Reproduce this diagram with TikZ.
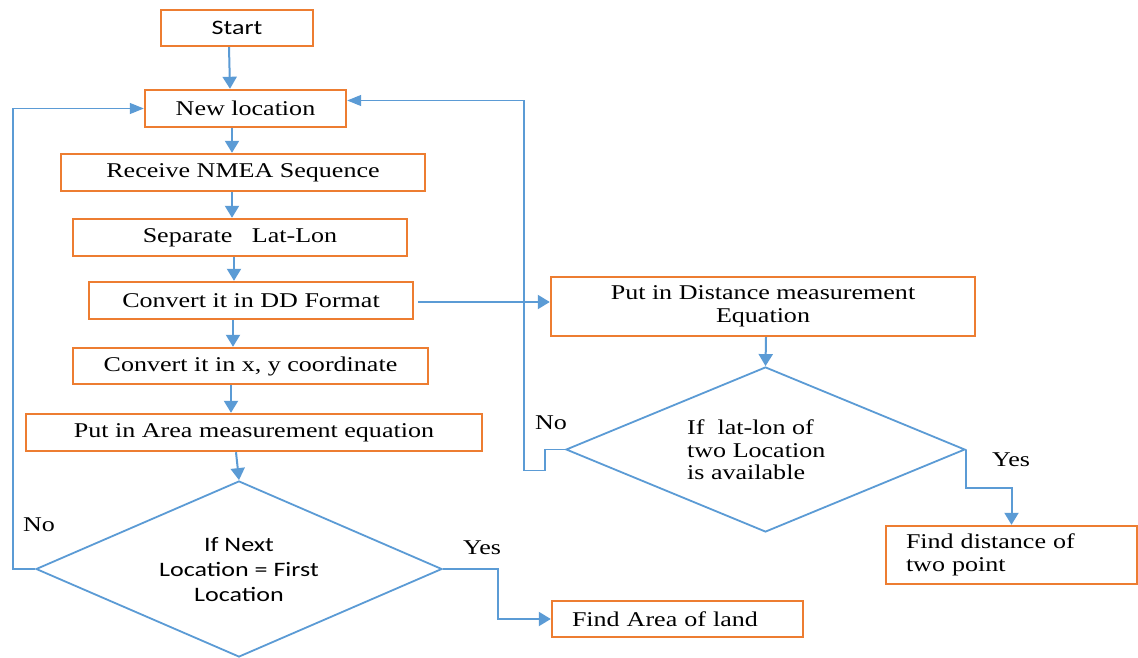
\documentclass[tikz,border=0pt]{standalone}
\usepackage{fontspec}
\setmainfont{Liberation Serif}[FakeStretch=1.24]
\newfontfamily\calfont{Carlito}[FakeStretch=1.27]
\usetikzlibrary{arrows.meta,shapes.geometric}
\definecolor{obox}{HTML}{ED7D31}
\definecolor{bline}{HTML}{5B9BD5}
\begin{document}
\begin{tikzpicture}[x=1pt,y=-1pt,
  every node/.style={font=\fontsize{21}{22.5}\selectfont, text=black},
  box/.style={draw=obox, line width=2.4pt, inner sep=0pt, fill=white, align=center},
  dec/.style={diamond, draw=bline, line width=1.8pt, inner sep=0pt},
  arr/.style={draw=bline, line width=2pt, -{Triangle[width=14pt,length=12pt]}},
  loop/.style={draw=bline, line width=1.3pt, -{Triangle[width=11pt,length=14pt]}},
  lbl/.style={inner sep=0pt}]
\fill[white] (0,0) rectangle (1138,658);
\useasboundingbox (0,0) rectangle (1138,658);

% boxes
\node[box, minimum width=152pt, minimum height=36pt, font=\calfont\fontsize{20.5}{22}\selectfont] (start) at (237,28) {Start};
\node[box, minimum width=201pt, minimum height=37pt] (nl) at (245.5,108.5) {New location};
\node[box, minimum width=364pt, minimum height=37pt] (rcv) at (243,172.5) {Receive NMEA Sequence};
\node[box, minimum width=334pt, minimum height=37pt] (sep) at (240,237.5) {Separate~~~Lat-Lon};
\node[box, minimum width=324pt, minimum height=37pt] (dd) at (251,300.5) {Convert it in DD Format};
\node[box, minimum width=355pt, minimum height=36pt] (xy) at (250.5,366) {Convert it in x, y coordinate};
\node[box, minimum width=456pt, minimum height=37pt] (area) at (254,432.5) {Put in Area measurement equation};
\node[box, minimum width=424pt, minimum height=59pt] (dist) at (763,306.5) {Put in Distance measurement\\Equation};
\node[box, minimum width=251pt, minimum height=36pt, text width=211pt, align=left] (fa) at (677.5,619) {Find Area of land};
\node[box, minimum width=251pt, minimum height=58pt, text width=211pt, align=left] (fd) at (1011.5,555) {Find distance of\\two point};

% decisions
\node[dec, minimum width=406pt, minimum height=176pt] (d1) at (239,569) {};
\node[align=center, inner sep=0pt, font=\calfont\fontsize{20.5}{25}\selectfont] (d1t) at (239,570) {If Next\\Location = First\\Location};
\node[dec, minimum width=399pt, minimum height=165pt] (d2) at (765.5,449.5) {};
\node[align=left, anchor=west, inner sep=0pt] (d2t) at (687,450) {If~ lat-lon of\\two Location\\is available};

% labels
\node[lbl] (no1) at (39,525) {No};
\node[lbl] (yes1) at (482,548) {Yes};
\node[lbl] (no2) at (551,423) {No};
\node[lbl] (yes2) at (1011,460) {Yes};

% main flow
\draw[arr] ([xshift=-8pt]start.south) -- ([xshift=-15.5pt]nl.north);
\draw[arr] ([xshift=-13.5pt]nl.south) -- ([xshift=-11pt]rcv.north);
\draw[arr] ([xshift=-11pt]rcv.south) -- ([xshift=-8pt]sep.north);
\draw[arr] ([xshift=-6pt]sep.south) -- ([xshift=-17pt]dd.north);
\draw[arr] ([xshift=-18pt]dd.south) -- ([xshift=-17.5pt]xy.north);
\draw[arr] ([xshift=-19.5pt]xy.south) -- ([xshift=-23pt]area.north);
\draw[arr] ([xshift=-18pt]area.south) -- (d1.north);
\draw[arr] ([xshift=4pt,yshift=-1.5pt]dd.east) -- ([yshift=-1.5pt]dd.east -| dist.west);
\draw[arr] ([xshift=3pt]dist.south) -- (d2.north);
\draw[arr] (d1.east) -- ++(55,0) |- (fa.west);
\draw[arr] (d2.east) -- ++(0,38) -| (fd.north);

% loops back
\draw[loop] (d1.west) -- ++(-22,0) |- (nl.west);
\draw[loop] (d2.west) -- ++(-20,0) -- ++(0,21) -- ++(-21,0) |- ([yshift=8pt]nl.east);
\end{tikzpicture}
\end{document}
